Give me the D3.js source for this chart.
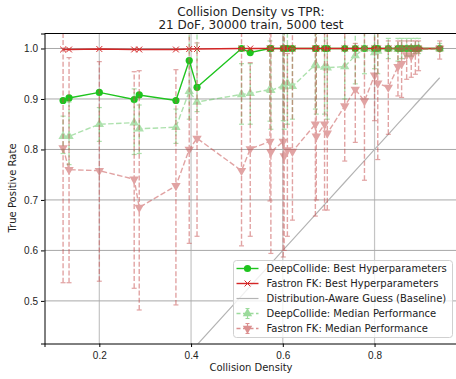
<!DOCTYPE html>
<html>
<head>
<meta charset="utf-8">
<script src="https://cdn.jsdelivr.net/npm/d3@7"></script>
<style>
  body { margin: 0; background: #fff; }
  svg { font-family: "DejaVu Sans", sans-serif; }
</style>
</head>
<body>
<svg id="chart" width="456" height="379"></svg>
<script>
// collision density of each scene
const density = [0.121, 0.134, 0.200, 0.276, 0.287, 0.367, 0.396, 0.413, 0.510, 0.529, 0.572, 0.574, 0.601, 0.603, 0.610, 0.621, 0.671, 0.673, 0.691, 0.697, 0.735, 0.758, 0.778, 0.800, 0.807, 0.830, 0.851, 0.859, 0.870, 0.880, 0.889, 0.896, 0.942]

// best hyperparameters
const dcBest = [0.897, 0.902, 0.913, 0.899, 0.908, 0.897, 0.976, 0.923, 1.0, 0.992, 1.0, 1.0, 1.0, 1.0, 1.0, 1.0, 1.0, 1.0, 1.0, 1.0, 1.0, 1.0, 1.0, 1.0, 1.0, 1.0, 1.0, 1.0, 1.0, 1.0, 1.0, 1.0, 1.0]
const fkBest = [0.998, 0.998, 0.999, 0.998, 0.998, 0.998, 0.999, 0.999, 1.0, 1.0, 1.0, 1.0, 1.0, 1.0, 1.0, 1.0, 1.0, 1.0, 1.0, 1.0, 1.0, 1.0, 1.0, 1.0, 1.0, 1.0, 1.0, 1.0, 1.0, 1.0, 1.0, 1.0, 1.0]

// median performance + spread
const dcMed = [0.826, 0.826, 0.850, 0.853, 0.841, 0.844, 0.915, 0.894, 0.909, 0.911, 0.919, 0.917, 0.926, 0.924, 0.931, 0.925, 0.968, 0.966, 0.963, 0.962, 0.964, 0.986, 1.0, 0.992, 0.995, 1.0, 0.999, 1.0, 1.0, 1.0, 1.0, 1.0, 1.0]
const dcLo = [0.792, 0.770, 0.816, 0.790, 0.792, 0.812, 0.860, 0.875, 0.850, 0.850, 0.856, 0.840, 0.857, 0.840, 0.850, 0.860, 0.880, 0.870, 0.870, 0.860, 0.900, 0.930, 0.950, 0.960, 0.950, 0.980, 0.975, 0.980, 0.985, 0.985, 0.990, 0.990, 0.995]
const dcHi = [0.866, 0.894, 0.883, 0.920, 0.888, 0.880, 1.050, 1.050, 0.970, 0.970, 1.015, 1.000, 1.050, 1.050, 1.050, 1.000, 1.050, 1.050, 1.050, 1.050, 1.050, 1.050, 1.050, 1.050, 1.050, 1.020, 1.020, 1.020, 1.020, 1.020, 1.020, 1.020, 1.010]

const fkMed = [0.803, 0.760, 0.758, 0.741, 0.685, 0.728, 0.800, 0.822, 0.758, 0.801, 0.816, 0.795, 0.816, 0.787, 0.799, 0.796, 0.850, 0.826, 0.850, 0.832, 0.886, 0.919, 0.896, 0.947, 0.931, 0.923, 0.964, 0.970, 0.987, 0.985, 0.995, 0.998, 1.0]
const fkLo = [0.536, 0.536, 0.539, 0.525, 0.482, 0.492, 0.614, 0.628, 0.609, 0.628, 0.698, 0.594, 0.587, 0.600, 0.628, 0.660, 0.668, 0.700, 0.680, 0.680, 0.777, 0.814, 0.739, 0.857, 0.780, 0.830, 0.906, 0.903, 0.939, 0.943, 0.949, 0.956, 0.979]
const fkHi = [1.060, 0.982, 0.974, 0.954, 0.956, 0.958, 1.060, 1.011, 1.060, 0.972, 1.060, 1.060, 1.060, 1.060, 0.990, 1.060, 1.060, 1.060, 1.060, 1.060, 1.060, 1.010, 1.060, 1.060, 1.060, 1.015, 1.015, 1.015, 1.015, 1.015, 1.015, 1.015, 1.015]

const xTicks = [0.2, 0.4, 0.6, 0.8]
const yTicks = [0.5, 0.6, 0.7, 0.8, 0.9, 1.0]

const green = "#1ec41e"
const red = "#d42626"
const greenMed = "#5cc45c"
const redMed = "#c44848"

const svg = d3.select("#chart")
const mLeft = 44.5, mRight = 458.5, mTop = 33.5, mBottom = 343.5

const x = d3.scaleLinear().domain([0.0805, 0.983]).range([mLeft, mRight])
const y = d3.scaleLinear().domain([0.4156, 1.0297]).range([mBottom, mTop])

svg.append("defs").append("clipPath").attr("id", "clip")
  .append("rect").attr("x", mLeft).attr("y", mTop).attr("width", mRight - mLeft).attr("height", mBottom - mTop)

// grid
const grid = svg.append("g")
grid.selectAll(".gx").data(xTicks).enter().append("line")
  .attr("x1", d => x(d)).attr("x2", d => x(d)).attr("y1", mTop).attr("y2", mBottom)
  .attr("stroke", "#c4c4c4").attr("stroke-width", 1.2)
grid.selectAll(".gy").data(yTicks).enter().append("line")
  .attr("x1", mLeft).attr("x2", mRight).attr("y1", d => y(d)).attr("y2", d => y(d))
  .attr("stroke", "#a8a8a8").attr("stroke-width", 1)

const plot = svg.append("g").attr("clip-path", "url(#clip)")
const pts = density.map((d, i) => i)

// best hyperparameter lines
const lineOf = arr => d3.line().x(i => x(density[i])).y(i => y(arr[i]))

plot.append("path").attr("d", lineOf(dcBest)(pts))
  .attr("fill", "none").attr("stroke", green).attr("stroke-width", 1.4)
plot.selectAll(".dcdot").data(pts).enter().append("circle")
  .attr("cx", i => x(density[i])).attr("cy", i => y(dcBest[i])).attr("r", 3.6)
  .attr("fill", green)

plot.append("path").attr("d", lineOf(fkBest)(pts))
  .attr("fill", "none").attr("stroke", red).attr("stroke-width", 1.4)
const xMark = d3.symbol().type(d3.symbolX).size(24)
plot.selectAll(".fkx").data(pts).enter().append("path")
  .attr("d", xMark)
  .attr("transform", i => `translate(${x(density[i])},${y(fkBest[i])})`)
  .attr("fill", "none").attr("stroke", red).attr("stroke-width", 1)

// baseline y = x
plot.append("path").attr("d", d3.line().x(i => x(density[i])).y(i => y(density[i]))(pts))
  .attr("fill", "none").attr("stroke", "#b4b4b4").attr("stroke-width", 1.2)

// median with error bars
function medianSeries(med, lo, hi, color, symType, rot) {
  const g = plot.append("g").attr("opacity", 0.5)
  g.selectAll(".eb").data(pts).enter().append("line")
    .attr("x1", i => x(density[i])).attr("x2", i => x(density[i]))
    .attr("y1", i => y(lo[i])).attr("y2", i => y(hi[i]))
    .attr("stroke", color).attr("stroke-width", 1.4).attr("stroke-dasharray", "5,2.2")
  g.selectAll(".caplo").data(pts).enter().append("line")
    .attr("x1", i => x(density[i]) - 2.5).attr("x2", i => x(density[i]) + 2.5)
    .attr("y1", i => y(lo[i])).attr("y2", i => y(lo[i]))
    .attr("stroke", color).attr("stroke-width", 1.2)
  g.selectAll(".caphi").data(pts).enter().append("line")
    .attr("x1", i => x(density[i]) - 2.5).attr("x2", i => x(density[i]) + 2.5)
    .attr("y1", i => y(hi[i])).attr("y2", i => y(hi[i]))
    .attr("stroke", color).attr("stroke-width", 1.2)
  g.append("path").attr("d", lineOf(med)(pts))
    .attr("fill", "none").attr("stroke", color).attr("stroke-width", 1.4).attr("stroke-dasharray", "5.5,2.4")
  g.selectAll(".tri").data(pts).enter().append("path")
    .attr("d", d3.symbol().type(symType).size(38))
    .attr("transform", i => `translate(${x(density[i])},${y(med[i])}) rotate(${rot})`)
    .attr("fill", color)
}
medianSeries(dcMed, dcLo, dcHi, greenMed, d3.symbolTriangle, 0)
medianSeries(fkMed, fkLo, fkHi, redMed, d3.symbolTriangle, 180)

// axes
svg.append("g").attr("transform", `translate(0,${mBottom})`)
  .call(d3.axisBottom(x).tickValues(xTicks).tickFormat(d3.format(".1f")).tickSizeOuter(0).tickSize(3.5))
  .call(g => g.selectAll("text").attr("font-size", 10).attr("fill", "#222").attr("dy", "0.9em"))
  .call(g => g.select(".domain").attr("stroke", "#000"))
svg.append("g").attr("transform", `translate(${mLeft},0)`)
  .call(d3.axisLeft(y).tickValues(yTicks).tickFormat(d3.format(".1f")).tickSizeOuter(0).tickSize(3.5))
  .call(g => g.selectAll("text").attr("font-size", 10).attr("fill", "#222"))
  .call(g => g.select(".domain").attr("stroke", "#000"))
svg.append("line").attr("x1", mLeft).attr("x2", mRight).attr("y1", mTop).attr("y2", mTop)
  .attr("stroke", "#000")

// labels
svg.append("text").attr("x", 251).attr("y", 371).attr("text-anchor", "middle")
  .attr("font-size", 10).attr("fill", "#222").text("Collision Density")
svg.append("text").attr("transform", "translate(16,188) rotate(-90)").attr("text-anchor", "middle")
  .attr("font-size", 10).attr("fill", "#222").text("True Positive Rate")
svg.append("text").attr("x", 251).attr("y", 16).attr("text-anchor", "middle")
  .attr("font-size", 12).attr("fill", "#222").text("Collision Density vs TPR:")
svg.append("text").attr("x", 251).attr("y", 29).attr("text-anchor", "middle")
  .attr("font-size", 12).attr("fill", "#222").text("21 DoF, 30000 train, 5000 test")

// legend
const legendItems = [
  { label: "DeepCollide: Best Hyperparameters", kind: "dot" },
  { label: "Fastron FK: Best Hyperparameters", kind: "x" },
  { label: "Distribution-Aware Guess (Baseline)", kind: "base" },
  { label: "DeepCollide: Median Performance", kind: "up" },
  { label: "Fastron FK: Median Performance", kind: "down" }
]
const lg = svg.append("g").attr("transform", "translate(233.5,260.5)")
lg.append("rect").attr("width", 219).attr("height", 77).attr("rx", 3)
  .attr("fill", "#fff").attr("fill-opacity", 0.8).attr("stroke", "#d0d0d0")
legendItems.forEach((it, k) => {
  const row = lg.append("g").attr("transform", `translate(0,${8 + k * 15})`)
  if (it.kind === "dot") {
    row.append("line").attr("x1", 3).attr("x2", 25).attr("stroke", green).attr("stroke-width", 1.4)
    row.append("circle").attr("cx", 14).attr("r", 3.6).attr("fill", green)
  } else if (it.kind === "x") {
    row.append("line").attr("x1", 3).attr("x2", 25).attr("stroke", red).attr("stroke-width", 1.4)
    row.append("path").attr("d", xMark).attr("transform", "translate(14,0)")
      .attr("fill", "none").attr("stroke", red)
  } else if (it.kind === "base") {
    row.append("line").attr("x1", 3).attr("x2", 25).attr("stroke", "#b4b4b4").attr("stroke-width", 1.2)
  } else {
    const c = it.kind === "up" ? greenMed : redMed
    const gg = row.append("g").attr("opacity", 0.6)
    gg.append("line").attr("x1", 3).attr("x2", 25).attr("stroke", c).attr("stroke-width", 1.4).attr("stroke-dasharray", "4,2.5")
    gg.append("line").attr("x1", 14).attr("x2", 14).attr("y1", -5).attr("y2", 5).attr("stroke", c).attr("stroke-width", 1.2)
    gg.append("line").attr("x1", 12).attr("x2", 16).attr("y1", -5).attr("y2", -5).attr("stroke", c)
    gg.append("line").attr("x1", 12).attr("x2", 16).attr("y1", 5).attr("y2", 5).attr("stroke", c)
    gg.append("path").attr("d", d3.symbol().type(d3.symbolTriangle).size(38))
      .attr("transform", `translate(14,0) rotate(${it.kind === "up" ? 0 : 180})`).attr("fill", c)
  }
  row.append("text").attr("x", 33).attr("y", 3.5).attr("font-size", 10).attr("fill", "#222").text(it.label)
})
</script>
</body>
</html>
